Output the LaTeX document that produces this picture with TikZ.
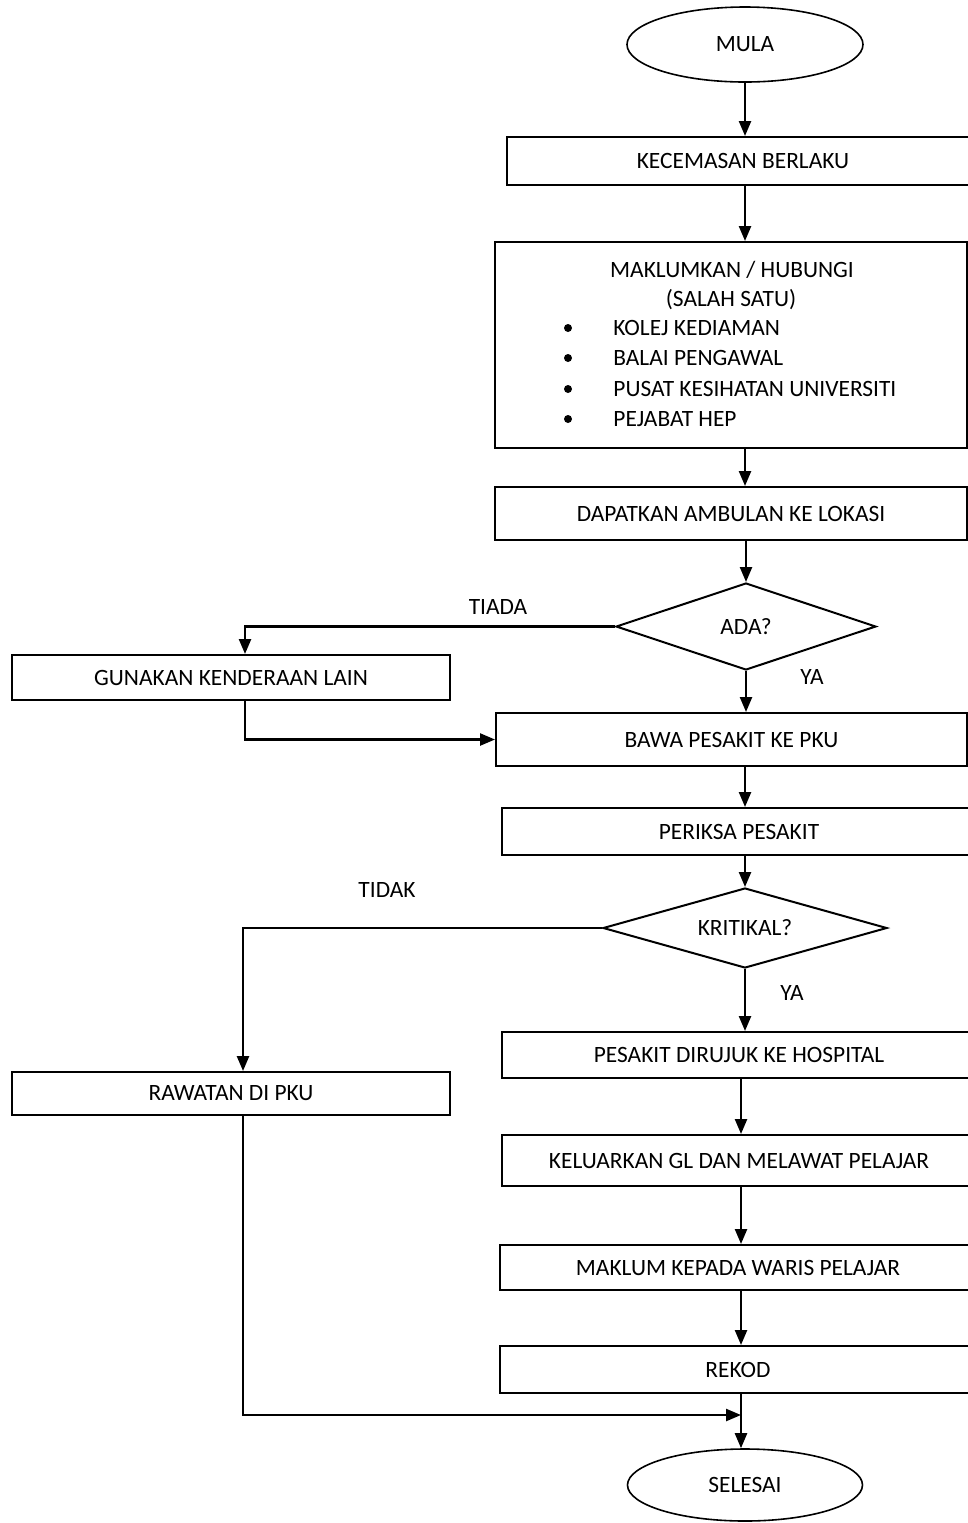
\documentclass[tikz,border=0pt]{standalone}
\usepackage{fontspec}
\setmainfont{Carlito}
\usetikzlibrary{shapes.geometric,arrows.meta}
\begin{document}
\begin{tikzpicture}[x=0.5pt,y=-0.5pt,>={Triangle[length=7.5pt,width=6pt]},
  font=\fontsize{11.7}{14}\selectfont,
  box/.style={draw,line width=1pt,rectangle,inner sep=0pt},
  terminal/.style={draw,line width=0.8pt,ellipse,inner sep=0pt},
  decision/.style={draw,line width=1pt,diamond,aspect=3,inner sep=0pt},
  flow/.style={->,line width=1.2pt}]
  \useasboundingbox (0,0) rectangle (968,1523);
  \node[terminal,minimum width=118pt,minimum height=37.5pt] (mula) at (745,44.5) {MULA};
  \node[box,minimum width=236pt,minimum height=24pt] (cemas) at (743,161) {KECEMASAN BERLAKU};
  \node[box,minimum width=236pt,minimum height=103pt] (hubungi) at (731,345) {};
  \node (hubT) at (732,270) {MAKLUMKAN / HUBUNGI};
  \node (hubS) at (731,300) {(SALAH SATU)};
  \node[anchor=west,inner sep=0pt] (hub1) at (613,328) {KOLEJ KEDIAMAN};
  \node[anchor=west,inner sep=0pt] (hub2) at (613,358) {BALAI PENGAWAL};
  \node[anchor=west,inner sep=0pt] (hub3) at (613,389) {PUSAT KESIHATAN UNIVERSITI};
  \node[anchor=west,inner sep=0pt] (hub4) at (613,419) {PEJABAT HEP};
  \foreach \y in {328,358,389,419}
    \fill (568,\y) circle (2pt);
  \node[box,minimum width=236pt,minimum height=26.5pt] (ambulan) at (731,513.5) {DAPATKAN AMBULAN KE LOKASI};
  \node[decision,minimum width=130pt,minimum height=43.5pt] (ada) at (746,626.5) {ADA?};
  \node[box,minimum width=219pt,minimum height=22.5pt] (lain) at (231,677.5) {GUNAKAN KENDERAAN LAIN};
  \node[box,minimum width=235.5pt,minimum height=26.5pt] (bawa) at (731.5,739.5) {BAWA PESAKIT KE PKU};
  \node[box,minimum width=237pt,minimum height=23.5pt] (periksa) at (739,831.5) {PERIKSA PESAKIT};
  \node[decision,minimum width=142pt,minimum height=40pt] (kritikal) at (745,928) {KRITIKAL?};
  \node[box,minimum width=219pt,minimum height=21.5pt] (rawat) at (231,1093.5) {RAWATAN DI PKU};
  \node[box,minimum width=237pt,minimum height=23pt] (rujuk) at (739,1055) {PESAKIT DIRUJUK KE HOSPITAL};
  \node[box,minimum width=237pt,minimum height=25.5pt] (gl) at (739,1160.5) {KELUARKAN GL DAN MELAWAT PELAJAR};
  \node[box,minimum width=238pt,minimum height=22.5pt] (waris) at (738,1267.5) {MAKLUM KEPADA WARIS PELAJAR};
  \node[box,minimum width=238pt,minimum height=23.5pt] (rekod) at (738,1369.5) {REKOD};
  \node[terminal,minimum width=117.5pt,minimum height=36pt] (selesai) at (745,1485) {SELESAI};
  \node (tiada) at (498,607) {TIADA};
  \node (yaA) at (812,677) {YA};
  \node (tidak) at (387,890) {TIDAK};
  \node (yaB) at (792,993) {YA};
  \coordinate (gabung) at (741,1415);
  \draw[flow] (mula.south) -- (mula.south |- cemas.north);
  \draw[flow] (cemas.south -| mula.south) -- (mula.south |- hubungi.north);
  \draw[flow] (hubungi.south -| mula.south) -- (mula.south |- ambulan.north);
  \draw[flow] (ada.north |- ambulan.south) -- (ada.north);
  \draw[flow] (ada.south) -- (ada.south |- bawa.north);
  \draw[flow] (ada.west) -| ([xshift=7pt]lain.north);
  \draw[flow] ([xshift=7pt]lain.south) |- (bawa.west);
  \draw[flow] (bawa.south -| kritikal.north) -- (kritikal.north |- periksa.north);
  \draw[flow] (periksa.south -| kritikal.north) -- (kritikal.north);
  \draw[flow] (kritikal.west) -| ([xshift=6pt]rawat.north);
  \draw[flow] (kritikal.south) -- (kritikal.south |- rujuk.north);
  \draw[flow] (rujuk.south -| gabung) -- (gabung |- gl.north);
  \draw[flow] (gl.south -| gabung) -- (gabung |- waris.north);
  \draw[flow] (waris.south -| gabung) -- (gabung |- rekod.north);
  \draw[flow] (rekod.south -| gabung) -- (gabung |- selesai.north);
  \draw[flow] ([xshift=6pt]rawat.south) |- (gabung);
\end{tikzpicture}
\end{document}
